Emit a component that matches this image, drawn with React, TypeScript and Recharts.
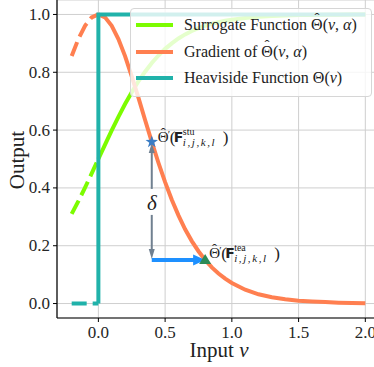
import React from 'react'
import {
  ComposedChart, Line, XAxis, YAxis, CartesianGrid, Legend,
  ReferenceLine, ReferenceDot, Label
} from 'recharts'

// values
const xNeg = [-0.2, -0.15, -0.1, -0.05, 0]
const surrogateNeg = [0.31, 0.354, 0.401, 0.45, 0.5]
const gradientNeg = [0.856, 0.915, 0.961, 0.99, 1.0]

const xPos = [0, 0.05, 0.1, 0.15, 0.2, 0.25, 0.3, 0.35, 0.4, 0.45, 0.5, 0.55, 0.6, 0.65, 0.7, 0.75, 0.8,
  0.85, 0.9, 0.95, 1.0, 1.1, 1.2, 1.3, 1.4, 1.5, 1.6, 1.7, 1.8, 1.9, 2.0]
const surrogatePos = [0.5, 0.55, 0.599, 0.646, 0.69, 0.731, 0.769, 0.802, 0.832, 0.858, 0.881, 0.9, 0.917,
  0.931, 0.943, 0.953, 0.961, 0.968, 0.973, 0.978, 0.982, 0.988, 0.992, 0.995, 0.996, 0.998, 0.998, 0.999,
  0.999, 1.0, 1.0]
const gradientPos = [1.0, 0.99, 0.961, 0.915, 0.856, 0.786, 0.712, 0.635, 0.559, 0.487, 0.42, 0.359, 0.305,
  0.257, 0.216, 0.181, 0.151, 0.125, 0.104, 0.086, 0.071, 0.048, 0.032, 0.022, 0.015, 0.01, 0.007, 0.005,
  0.003, 0.002, 0.001]

const heaviX = [0, 0, 2]
const heaviY = [0, 1, 1]
const heaviNegX = [-0.2, 0]
const heaviNegY = [0, 0]

const xTicks = [0, 0.5, 1.0, 1.5, 2.0]
const yTicks = [0, 0.2, 0.4, 0.6, 0.8, 1.0]

// annotation points
const stuPoint = { x: 0.4, y: 0.559 }
const teaPoint = { x: 0.8, y: 0.151 }
const arrowBase = { x: 0.4, y: 0.151 }

const zip = (xs: number[], ys: number[]) => xs.map((x, i) => ({ x, y: ys[i] }))

const SERIF = '"Liberation Serif", "DejaVu Serif", serif'
const GREEN = '#7CFC00'
const CORAL = '#FF7F50'
const TEAL = '#20B2AA'

const head = (tx: number, ty: number, dx: number, dy: number, len: number, w: number, fill: string) => {
  const bx = tx - dx * len, by = ty - dy * len
  const px = -dy * w / 2, py = dx * w / 2
  return <polygon points={`${tx},${ty} ${bx + px},${by + py} ${bx - px},${by - py}`} fill={fill} />
}

const XTick = ({ x, y, payload }: any) => (
  <text x={x} y={y + 13} textAnchor="middle" fontFamily={SERIF} fontSize={17} fill="#262626">
    {Number(payload.value).toFixed(1)}
  </text>
)
const YTick = ({ x, y, payload }: any) => (
  <text x={x} y={y + 5.5} textAnchor="end" fontFamily={SERIF} fontSize={17} fill="#262626">
    {Number(payload.value).toFixed(1)}
  </text>
)

// Θ with a hat on top, for html text
const ThetaHat = () => (
  <span style={{ position: 'relative', display: 'inline-block' }}>
    Θ
    <span style={{ position: 'absolute', left: 0, right: 0, top: -6, textAlign: 'center', fontSize: 15 }}>ˆ</span>
  </span>
)

const legendRows = [
  { color: GREEN, text: <>Surrogate Function <ThetaHat />(<i>v</i>, <i>α</i>)</> },
  { color: CORAL, text: <>Gradient of <ThetaHat />(<i>v</i>, <i>α</i>)</> },
  { color: TEAL, text: <>Heaviside Function Θ(<i>v</i>)</> },
]

const LegendBox = () => (
  <div style={{
    background: 'rgba(255,255,255,0.8)', border: '1px solid #d6d6d6', borderRadius: 4,
    padding: '3px 6px 4px 5px', fontFamily: SERIF, fontSize: 16, color: '#222', boxSizing: 'border-box'
  }}>
    {legendRows.map((r, i) => (
      <div key={i} style={{ display: 'flex', alignItems: 'center', height: 26.5 }}>
        <span style={{ display: 'inline-block', width: 37, height: 4, background: r.color, marginRight: 11 }} />
        <span style={{ whiteSpace: 'nowrap' }}>{r.text}</span>
      </div>
    ))}
  </div>
)

const mathLabel = (x0: number, y0: number, sup: string) => (
  <g fontFamily={SERIF} fill="#222">
    <text x={x0} y={y0} fontSize={15}>Θ</text>
    <text x={x0 + 5.4} y={y0 - 4} fontSize={15} textAnchor="middle">ˆ</text>
    <text x={x0 + 10} y={y0 - 4} fontSize={11}>′</text>
    <text x={x0 + 12} y={y0 + 1} fontSize={17}>(</text>
    <text x={x0 + 16} y={y0} fontSize={14} fontWeight="bold" fontFamily='"DejaVu Sans", sans-serif'>F</text>
    <text x={x0 + 25} y={y0 - 7} fontSize={10}>{sup}</text>
    <text x={x0 + 25} y={y0 + 4} fontSize={11} fontStyle="italic" letterSpacing={1.6}>i,j,k,l</text>
    <text x={x0 + 65} y={y0 + 1} fontSize={17}>)</text>
  </g>
)

const star = (cx: number, cy: number, r: number) => {
  const pts: string[] = []
  for (let i = 0; i < 10; i++) {
    const a = -Math.PI / 2 + i * Math.PI / 5
    const rr = i % 2 === 0 ? r : r * 0.4
    pts.push(`${cx + rr * Math.cos(a)},${cy + rr * Math.sin(a)}`)
  }
  return pts.join(' ')
}

export default function App() {
  return (
    <div style={{ position: 'fixed', left: 0, top: 0, width: 374, height: 367, overflow: 'hidden', background: '#fff' }}>
      <ComposedChart width={380} height={367} margin={{ top: 0, right: 0, bottom: 0, left: 0 }}>
        <CartesianGrid stroke="#cfcfcf" strokeWidth={1} />
        <XAxis
          type="number" dataKey="x" domain={[-0.31, 2.11]} allowDataOverflow ticks={xTicks}
          height={49} tickSize={4} tickMargin={3}
          axisLine={{ stroke: '#000', strokeWidth: 1.2 }} tickLine={{ stroke: '#000' }}
          tick={<XTick />}
        >
          <Label content={() => (
            <text x={219} y={357} textAnchor="middle" fontFamily={SERIF} fontSize={21} fill="#222">
              Input <tspan fontStyle="italic">v</tspan>
            </text>
          )} />
        </XAxis>
        <YAxis
          type="number" domain={[-0.05, 1.05]} allowDataOverflow ticks={yTicks}
          width={57} tickSize={4} tickMargin={3}
          axisLine={{ stroke: '#000', strokeWidth: 1.2 }} tickLine={{ stroke: '#000' }}
          tick={<YTick />}
        >
          <Label content={() => (
            <text x={24} y={160} textAnchor="middle" transform="rotate(-90 24 160)"
              fontFamily={SERIF} fontSize={21} fill="#222">Output</text>
          )} />
        </YAxis>

        <Line data={zip(xNeg, surrogateNeg)} dataKey="y" stroke={GREEN} strokeWidth={4} strokeDasharray="15 6"
          dot={false} legendType="none" isAnimationActive={false} />
        <Line data={zip(xPos, surrogatePos)} dataKey="y" stroke={GREEN} strokeWidth={4}
          dot={false} isAnimationActive={false} />
        <Line data={zip(xNeg, gradientNeg)} dataKey="y" stroke={CORAL} strokeWidth={4} strokeDasharray="15 6"
          dot={false} legendType="none" isAnimationActive={false} />
        <Line data={zip(xPos, gradientPos)} dataKey="y" stroke={CORAL} strokeWidth={4}
          dot={false} isAnimationActive={false} />
        <Line data={zip(heaviNegX, heaviNegY)} dataKey="y" stroke={TEAL} strokeWidth={4} strokeDasharray="15 6"
          dot={false} legendType="none" isAnimationActive={false} />
        <Line data={zip(heaviX, heaviY)} dataKey="y" stroke={TEAL} strokeWidth={4}
          dot={false} isAnimationActive={false} />

        {/* delta double arrow */}
        <ReferenceLine
          segment={[stuPoint, arrowBase]} ifOverflow="visible"
          shape={(p: any) => (
            <g>
              <line x1={p.x1} y1={p.y1 + 9} x2={p.x2} y2={p.y2 - 9} stroke="#708090" strokeWidth={2} />
              {head(p.x1, p.y1 + 1, 0, -1, 10, 6, '#708090')}
              {head(p.x2, p.y2 - 1, 0, 1, 10, 6, '#708090')}
              <rect x={p.x1 - 7} y={(p.y1 + p.y2) / 2 - 12} width={14} height={26} fill="#fff" />
              <text x={p.x1} y={(p.y1 + p.y2) / 2 + 9} textAnchor="middle" fontFamily={SERIF}
                fontStyle="italic" fontSize={21} fill="#222">δ</text>
            </g>
          )}
        />
        <ReferenceDot x={teaPoint.x} y={teaPoint.y} r={5} ifOverflow="visible"
          shape={(p: any) => (
            <polygon points={`${p.cx},${p.cy - 6} ${p.cx + 6},${p.cy + 4} ${p.cx - 6},${p.cy + 4}`} fill="#2E8B57" />
          )}
        />
        {/* horizontal arrow */}
        <ReferenceLine
          segment={[arrowBase, teaPoint]} ifOverflow="visible"
          shape={(p: any) => (
            <g>
              <line x1={p.x1} y1={p.y1} x2={p.x2 - 10} y2={p.y2} stroke="#1E90FF" strokeWidth={4} />
              {head(p.x2, p.y2, 1, 0, 12, 11, '#1E90FF')}
            </g>
          )}
        />
        <ReferenceDot x={stuPoint.x} y={stuPoint.y} r={5} ifOverflow="visible"
          shape={(p: any) => (
            <g>
              <polygon points={star(p.cx, p.cy, 6.5)} fill="#3B7DC4" />
              {mathLabel(p.cx + 6, p.cy + 0.5, 'stu')}
            </g>
          )}
        />
        <ReferenceDot x={teaPoint.x} y={teaPoint.y} r={0} ifOverflow="visible"
          shape={(p: any) => mathLabel(p.cx + 4, p.cy - 1.5, 'tea')}
        />

        <Legend layout="vertical" align="center" verticalAlign="middle"
          wrapperStyle={{ top: 8, left: 130, width: 242 }} content={() => <LegendBox />} />
      </ComposedChart>
    </div>
  )
}
